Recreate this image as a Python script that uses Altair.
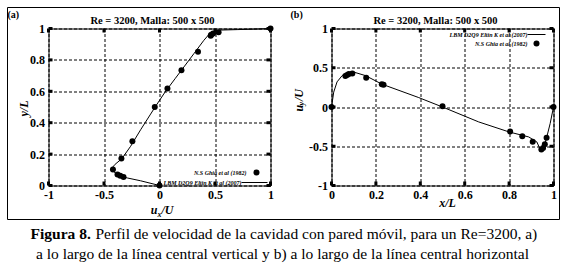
import altair as alt
import pandas as pd

# ---------------- data ----------------
# Panel (a): u_x/U along vertical centre line
ghia_a_u = [1.0, 0.53236, 0.48296, 0.46547, 0.46101, 0.34682, 0.19791, 0.07156,
            -0.04272, -0.24427, -0.34323, -0.41933, -0.37827, -0.35344, -0.32407, 0.0]
ghia_a_y = [1.0, 0.9766, 0.9688, 0.9609, 0.9531, 0.8516, 0.7344, 0.6172,
            0.5, 0.2813, 0.1719, 0.1016, 0.0703, 0.0625, 0.0547, 0.0]
lbm_a_u = [0.0, -0.17, -0.29, -0.37, -0.415, -0.43, -0.40, -0.34, -0.26, -0.17, -0.08,
           -0.03, 0.05, 0.14, 0.22, 0.31, 0.40, 0.455, 0.50, 0.55, 0.70, 0.85, 1.0]
lbm_a_y = [0.0, 0.03, 0.048, 0.064, 0.09, 0.11, 0.135, 0.17, 0.25, 0.355, 0.455,
           0.51, 0.595, 0.68, 0.755, 0.84, 0.925, 0.97, 0.985, 0.99, 0.993, 0.996, 1.0]

# Panel (b): u_y/U along horizontal centre line
ghia_b_x = [0.0, 0.0625, 0.0703, 0.0781, 0.0938, 0.1563, 0.2266, 0.2344, 0.5,
            0.8047, 0.8594, 0.9063, 0.9453, 0.9531, 0.9609, 0.9688, 1.0]
ghia_b_v = [0.0, 0.3956, 0.40917, 0.41906, 0.42768, 0.37119, 0.2903, 0.28188, 0.00999,
            -0.31184, -0.37401, -0.44307, -0.54053, -0.52357, -0.47425, -0.39017, 0.0]
lbm_b_x = [0.0, 0.01, 0.025, 0.048, 0.07, 0.1, 0.153, 0.228, 0.393, 0.5, 0.663,
           0.8, 0.888, 0.925, 0.94, 0.955, 0.97, 0.985, 1.0]
lbm_b_v = [0.0, 0.19, 0.32, 0.40, 0.435, 0.445, 0.40, 0.29, 0.12, 0.0, -0.19,
           -0.318, -0.381, -0.445, -0.54, -0.53, -0.38, -0.21, 0.0]

xticks_a = [-1, -0.5, 0, 0.5, 1]
yticks_a = [0, 0.2, 0.4, 0.6, 0.8, 1]
xticks_b = [0, 0.2, 0.4, 0.6, 0.8, 1]
yticks_b = [-1, -0.5, 0, 0.5, 1]

title_txt = "Re = 3200, Malla: 500 x 500"
leg_ghia = "N.S Ghia et al (1982)"
leg_lbm = "LBM D2Q9 Eltin K et al (2007)"
cap_bold = "Figura 8."
cap_1 = "Perfil de velocidad de la cavidad con pared móvil, para un Re=3200, a)"
cap_2 = "a lo largo de la línea central vertical y b) a lo largo de la línea central horizontal"

# ---------------- style ----------------
W, H = 222, 157
SERIF = "Liberation Serif"


def axis(values):
    return alt.Axis(values=values, grid=True, gridDash=[3, 2], gridColor="black",
                    gridOpacity=1, gridWidth=1, ticks=False, domain=False,
                    labelFont=SERIF, labelFontWeight="bold", labelFontSize=12,
                    labelColor="black", labelExpr="toString(datum.value)",
                    labelFlush=False, labelOverlap=False, labelPadding=4, title=None)


def X(dom, ticks):
    return alt.X("x:Q", scale=alt.Scale(domain=dom, nice=False, zero=False), axis=axis(ticks))


def Y(dom, ticks):
    return alt.Y("y:Q", scale=alt.Scale(domain=dom, nice=False, zero=False), axis=axis(ticks))


def label(text, x, y, size, weight="normal", style="normal", align="center",
          angle=0, baseline="middle"):
    return alt.Chart(pd.DataFrame({"t": [text]})).mark_text(
        align=align, baseline=baseline, font=SERIF, fontSize=size,
        fontWeight=weight, fontStyle=style, angle=angle, color="black"
    ).encode(text="t:N", x=alt.value(x), y=alt.value(y))


def one():
    return alt.Chart(pd.DataFrame({"k": [0]}))


def panel(gx, gy, lx, ly, xdom, ydom, xt, yt):
    xe, ye = X(xdom, xt), Y(ydom, yt)
    line_df = pd.DataFrame({"x": lx, "y": ly, "o": list(range(len(lx)))})
    pts_df = pd.DataFrame({"x": gx, "y": gy})
    line = alt.Chart(line_df).mark_line(color="black", strokeWidth=1).encode(
        x=xe, y=ye, order="o:Q")
    pts = alt.Chart(pts_df).mark_circle(size=36, color="black", opacity=1).encode(x=xe, y=ye)
    xt_df = pd.DataFrame({"x": xt})
    yt_df = pd.DataFrame({"y": yt})
    tb = alt.Chart(xt_df).mark_rule(color="black", strokeWidth=3).encode(
        x=xe, y=alt.value(H), y2=alt.value(H - 4))
    tt = alt.Chart(xt_df).mark_rule(color="black", strokeWidth=3).encode(
        x=xe, y=alt.value(0), y2=alt.value(4))
    tl = alt.Chart(yt_df).mark_rule(color="black", strokeWidth=3).encode(
        y=ye, x=alt.value(0), x2=alt.value(4))
    tr = alt.Chart(yt_df).mark_rule(color="black", strokeWidth=3).encode(
        y=ye, x=alt.value(W), x2=alt.value(W - 4))
    return [line, pts, tb, tt, tl, tr]


# ---------------- panel (a) ----------------
la = panel(ghia_a_u, ghia_a_y, lbm_a_u, lbm_a_y, [-1, 1], [0, 1], xticks_a, yticks_a)
ann_a = [
    label("(a)", -41, -14, 10, weight="bold", align="left"),
    label(title_txt, 104, -8, 10.5, weight="bold"),
    # axis titles
    label("u", 109, 185, 12, weight="bold", style="italic", align="right", baseline="alphabetic"),
    label("x", 109, 188, 8, weight="bold", style="italic", align="left", baseline="alphabetic"),
    label("/U", 113, 185, 12, weight="bold", style="italic", align="left", baseline="alphabetic"),
    label("y/L", -25, 80, 12, weight="bold", style="italic", angle=270),
    # legend
    label(leg_ghia, 198, 144, 6, weight="bold", style="italic", align="right"),
    one().mark_circle(size=36, color="black", opacity=1).encode(x=alt.value(208), y=alt.value(144)),
    label(leg_lbm, 193, 154, 6, weight="bold", style="italic", align="right"),
    one().mark_rule(color="black", strokeWidth=1).encode(
        x=alt.value(193), x2=alt.value(219), y=alt.value(154)),
    # outer frame and caption
    one().mark_rect(fillOpacity=0, stroke="black", strokeWidth=1).encode(
        x=alt.value(-41), x2=alt.value(511), y=alt.value(-21), y2=alt.value(191)),
    label(cap_bold, -18, 205, 15.5, weight="bold", align="left"),
    label(cap_1, 47, 205, 15.5, align="left"),
    label(cap_2, 234, 225, 15.5),
]
panel_a = alt.layer(*la, *ann_a).properties(width=W, height=H)

# ---------------- panel (b) ----------------
lb = panel(ghia_b_x, ghia_b_v, lbm_b_x, lbm_b_v, [0, 1], [-1, 1], xticks_b, yticks_b)
ann_b = [
    label("(b)", -41, -14, 10, weight="bold", align="left"),
    label(title_txt, 104, -8, 10.5, weight="bold"),
    label("x/L", 116, 174, 12, weight="bold", style="italic"),
    label("u", -33, 83, 12, weight="bold", style="italic", angle=270, align="left"),
    label("y", -30, 77, 8, weight="bold", style="italic", angle=270, align="left"),
    label("/U", -33, 72.5, 12, weight="bold", style="italic", angle=270, align="left"),
    label(leg_lbm, 196, 6, 6, weight="bold", style="italic", align="right"),
    one().mark_rule(color="black", strokeWidth=1).encode(
        x=alt.value(196), x2=alt.value(214), y=alt.value(6)),
    label(leg_ghia, 196, 15, 6, weight="bold", style="italic", align="right"),
    one().mark_circle(size=36, color="black", opacity=1).encode(x=alt.value(205), y=alt.value(15)),
]
panel_b = alt.layer(*lb, *ann_b).properties(width=W, height=H)

chart = alt.hconcat(panel_a, panel_b, spacing=61, bounds="flush").properties(
    padding={"left": 6.5, "top": 6.5, "right": 0, "bottom": 0},
    background="white",
).configure_view(stroke="black", strokeWidth=1)

chart.save("out.html", embed_options={"renderer": "svg", "actions": False})
